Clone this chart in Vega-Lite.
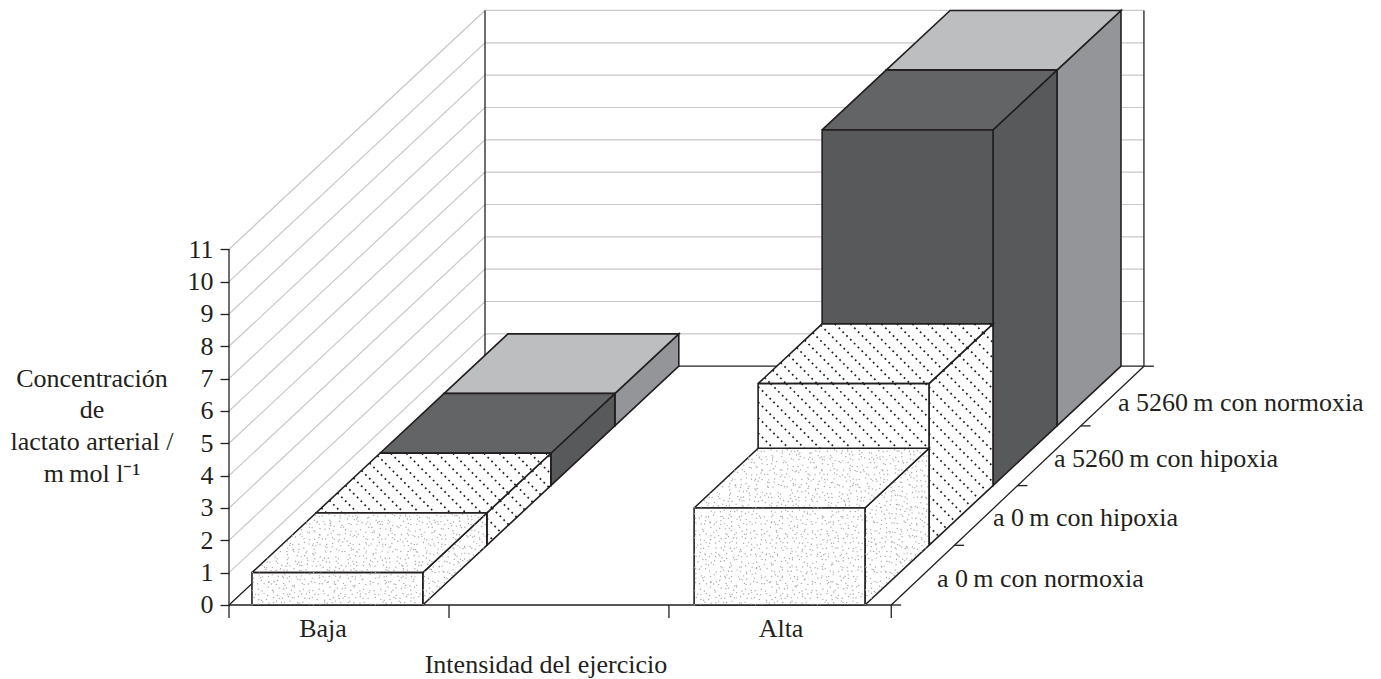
{
"$schema":"https://vega.github.io/schema/vega-lite/v6.json",
"width":1381,"height":679,"padding":0,"autosize":{"type":"none"},"background":"white",
"config":{"view":{"stroke":null}},
"data":{"values":[
{"intensidad":"Baja","condicion":"a 5260 m con normoxia","lactato":1},
{"intensidad":"Baja","condicion":"a 5260 m con hipoxia","lactato":1},
{"intensidad":"Baja","condicion":"a 0 m con hipoxia","lactato":1},
{"intensidad":"Baja","condicion":"a 0 m con normoxia","lactato":1},
{"intensidad":"Alta","condicion":"a 5260 m con normoxia","lactato":11},
{"intensidad":"Alta","condicion":"a 5260 m con hipoxia","lactato":11},
{"intensidad":"Alta","condicion":"a 0 m con hipoxia","lactato":5},
{"intensidad":"Alta","condicion":"a 0 m con normoxia","lactato":3}
]},
"transform":[
{"calculate":"datum.intensidad=='Baja'?0.104:2.107","as":"i"},
{"calculate":"0.774","as":"w"},
{"calculate":"indexof(['a 0 m con normoxia','a 0 m con hipoxia','a 5260 m con hipoxia','a 5260 m con normoxia'],datum.condicion)","as":"d"}
],
"encoding":{
"x":{"field":"u","type":"quantitative","scale":{"domain":[-1.03737,5.21857],"nice":false,"zero":false},"axis":null},
"y":{"field":"v","type":"quantitative","scale":{"domain":[-2.28819,18.70748],"nice":false,"zero":false},
"axis":{"values":[0,1,2,3,4,5,6,7,8,9,10,11],"offset":-229,"domain":false,"grid":false,"title":null,"tickSize":9,"tickWidth":1.3,"tickColor":"#231f20","labelPadding":7,"labelFont":"Liberation Serif","labelFontSize":26,"labelColor":"#231f20","labelOverlap":false,"labelBound":false,"labelFlush":false}}
},
"layer":[
{"data":{"values":[{"nivel":1},{"nivel":2},{"nivel":3},{"nivel":4},{"nivel":5},{"nivel":6},{"nivel":7},{"nivel":8},{"nivel":9},{"nivel":10},{"nivel":11}]},
"transform":[
{"calculate":"[{n:0,i:0,d:0},{n:1,i:0,d:4},{n:2,i:2.985,d:4}]","as":"p"},
{"flatten":["p"]},
{"calculate":"datum.p.n","as":"n"},
{"calculate":"datum.p.i+datum.p.d*0.28992","as":"u"},
{"calculate":"datum.nivel+datum.p.d*1.84601","as":"v"}],
"mark":{"type":"line","stroke":"#c7c8ca","strokeWidth":1.2},
"encoding":{"detail":{"field":"nivel"},"order":{"field":"n"}}},
{"data":{"values":[
{"id":"eje","n":0,"i":0,"d":0,"nivel":0},{"id":"eje","n":1,"i":0,"d":0,"nivel":11},
{"id":"frente","n":0,"i":0,"d":0,"nivel":0},{"id":"frente","n":1,"i":3,"d":0,"nivel":0},
{"id":"der","n":0,"i":3,"d":0,"nivel":0},{"id":"der","n":1,"i":2.985,"d":4,"nivel":0},
{"id":"izq","n":0,"i":0,"d":0,"nivel":0},{"id":"izq","n":1,"i":0,"d":4,"nivel":0},
{"id":"fondo","n":0,"i":0,"d":4,"nivel":0},{"id":"fondo","n":1,"i":2.985,"d":4,"nivel":0},
{"id":"paredizq","n":0,"i":0,"d":4,"nivel":0},{"id":"paredizq","n":1,"i":0,"d":4,"nivel":11},
{"id":"paredder","n":0,"i":2.985,"d":4,"nivel":0},{"id":"paredder","n":1,"i":2.985,"d":4,"nivel":11},
{"id":"tx0","n":0,"i":0,"d":0,"nivel":0},{"id":"tx0","n":1,"i":0,"d":0,"nivel":-0.4},
{"id":"tx1","n":0,"i":0.9966,"d":0,"nivel":0},{"id":"tx1","n":1,"i":0.9966,"d":0,"nivel":-0.4},
{"id":"tx2","n":0,"i":1.993,"d":0,"nivel":0},{"id":"tx2","n":1,"i":1.993,"d":0,"nivel":-0.4},
{"id":"tx3","n":0,"i":3,"d":0,"nivel":0},{"id":"tx3","n":1,"i":3,"d":0,"nivel":-0.4},
{"id":"td0","n":0,"i":3,"d":0,"nivel":0},{"id":"td0","n":1,"i":3.045,"d":0,"nivel":0},
{"id":"td1","n":0,"i":2.996,"d":1,"nivel":0},{"id":"td1","n":1,"i":3.04,"d":1,"nivel":0},
{"id":"td2","n":0,"i":2.9925,"d":2,"nivel":0},{"id":"td2","n":1,"i":3.037,"d":2,"nivel":0},
{"id":"td3","n":0,"i":2.989,"d":3,"nivel":0},{"id":"td3","n":1,"i":3.033,"d":3,"nivel":0},
{"id":"td4","n":0,"i":2.985,"d":4,"nivel":0},{"id":"td4","n":1,"i":3.03,"d":4,"nivel":0}
]},
"transform":[
{"calculate":"datum.i+datum.d*0.28992","as":"u"},
{"calculate":"datum.nivel+datum.d*1.84601","as":"v"}],
"mark":{"type":"line","stroke":"#231f20","strokeWidth":1.3},
"encoding":{"detail":{"field":"id"},"order":{"field":"n"}}},
{"transform":[
{"filter":"datum.d>=1"},
{"calculate":"[{f:'derecha',n:0,a:1,b:0,c:0},{f:'derecha',n:1,a:1,b:1,c:0},{f:'derecha',n:2,a:1,b:1,c:1},{f:'derecha',n:3,a:1,b:0,c:1},{f:'derecha',n:4,a:1,b:0,c:0},{f:'superior',n:0,a:0,b:0,c:1},{f:'superior',n:1,a:1,b:0,c:1},{f:'superior',n:2,a:1,b:1,c:1},{f:'superior',n:3,a:0,b:1,c:1},{f:'superior',n:4,a:0,b:0,c:1},{f:'frontal',n:0,a:0,b:0,c:0},{f:'frontal',n:1,a:1,b:0,c:0},{f:'frontal',n:2,a:1,b:0,c:1},{f:'frontal',n:3,a:0,b:0,c:1},{f:'frontal',n:4,a:0,b:0,c:0}]","as":"vt"},
{"flatten":["vt"]},
{"calculate":"datum.vt.n","as":"n"},
{"calculate":"datum.intensidad+datum.condicion+datum.vt.f","as":"key"},
{"calculate":"datum.d+datum.vt.f","as":"sup"},
{"calculate":"datum.i+datum.vt.a*datum.w+(datum.d+datum.vt.b)*0.28992","as":"u"},
{"calculate":"datum.vt.c*datum.lactato+(datum.d+datum.vt.b)*1.84601","as":"v"}],
"mark":{"type":"line","stroke":"#231f20","strokeWidth":1.6,"strokeJoin":"miter"},
"encoding":{"detail":{"field":"key"},"order":{"field":"n"},
"fill":{"field":"sup","type":"nominal","legend":null,"scale":{"domain":["1derecha","1superior","1frontal","2derecha","2superior","2frontal","3derecha","3superior","3frontal"],"range":["#ffffff","#ffffff","#ffffff","#58595b","#636466","#58595b","#939598","#bcbec0","#636466"]}}}},
{"transform":[
{"filter":"datum.d==1"},
{"calculate":"229+220.75*datum.i+64*datum.d","as":"xl"},
{"calculate":"datum.xl+220.75*datum.w","as":"xr"},
{"calculate":"605-59.7*datum.d","as":"yb"},
{"calculate":"32.34*datum.lactato","as":"h"},
{"calculate":"[{f:'frontal',ox:datum.xl,oy:datum.yb,ux:datum.xr-datum.xl,uy:0,vx:0,vy:-datum.h},{f:'superior',ox:datum.xl,oy:datum.yb-datum.h,ux:datum.xr-datum.xl,uy:0,vx:64,vy:-59.7},{f:'derecha',ox:datum.xr,oy:datum.yb,ux:64,uy:-59.7,vx:0,vy:-datum.h}]","as":"cara"},
{"flatten":["cara"]},
{"calculate":"sequence(-1100,700,15.5)","as":"cs"},
{"flatten":["cs"]},
{"calculate":"datum.cara.oy-datum.cara.ox","as":"o"},
{"calculate":"datum.cara.uy-datum.cara.ux","as":"pp"},
{"calculate":"datum.cara.vy-datum.cara.vx","as":"q"},
{"calculate":"(datum.cs-datum.o)/datum.pp","as":"s0"},
{"calculate":"(datum.cs-datum.o-datum.q)/datum.pp","as":"s1"},
{"calculate":"max(0,min(datum.s0,datum.s1))","as":"sa"},
{"calculate":"min(1,max(datum.s0,datum.s1))","as":"sb"},
{"filter":"datum.sb-datum.sa>0.0001"},
{"calculate":"[{n:0,s:datum.sa},{n:1,s:datum.sb}]","as":"ext"},
{"flatten":["ext"]},
{"calculate":"datum.ext.n","as":"n"},
{"calculate":"(datum.cs-datum.o-datum.ext.s*datum.pp)/datum.q","as":"tt"},
{"calculate":"(datum.cara.ox+datum.ext.s*datum.cara.ux+datum.tt*datum.cara.vx-229)/220.75","as":"u"},
{"calculate":"(605-(datum.cara.oy+datum.ext.s*datum.cara.uy+datum.tt*datum.cara.vy))/32.34","as":"v"},
{"calculate":"datum.intensidad+datum.cara.f+datum.cs","as":"key"}],
"mark":{"type":"line","stroke":"#231f20","strokeWidth":1.7,"strokeDash":[1.8,3.6]},
"encoding":{"detail":{"field":"key"},"order":{"field":"n"}}},
{"transform":[
{"filter":"datum.d==0"},
{"calculate":"[{f:'derecha',n:0,a:1,b:0,c:0},{f:'derecha',n:1,a:1,b:1,c:0},{f:'derecha',n:2,a:1,b:1,c:1},{f:'derecha',n:3,a:1,b:0,c:1},{f:'derecha',n:4,a:1,b:0,c:0},{f:'superior',n:0,a:0,b:0,c:1},{f:'superior',n:1,a:1,b:0,c:1},{f:'superior',n:2,a:1,b:1,c:1},{f:'superior',n:3,a:0,b:1,c:1},{f:'superior',n:4,a:0,b:0,c:1},{f:'frontal',n:0,a:0,b:0,c:0},{f:'frontal',n:1,a:1,b:0,c:0},{f:'frontal',n:2,a:1,b:0,c:1},{f:'frontal',n:3,a:0,b:0,c:1},{f:'frontal',n:4,a:0,b:0,c:0}]","as":"vt"},
{"flatten":["vt"]},
{"calculate":"datum.vt.n","as":"n"},
{"calculate":"datum.intensidad+datum.condicion+datum.vt.f","as":"key"},
{"calculate":"datum.i+datum.vt.a*datum.w+(datum.d+datum.vt.b)*0.28992","as":"u"},
{"calculate":"datum.vt.c*datum.lactato+(datum.d+datum.vt.b)*1.84601","as":"v"}],
"mark":{"type":"line","fill":"#ffffff","stroke":"#231f20","strokeWidth":1.6,"strokeJoin":"miter"},
"encoding":{"detail":{"field":"key"},"order":{"field":"n"}}},
{"transform":[
{"filter":"datum.d==0"},
{"calculate":"32.34*datum.lactato","as":"h"},
{"calculate":"[{f:0,a0:0,b0:0,c0:0,ua:1,ub:0,uc:0,va:0,vb:0,vc:1,nu:37,nv:datum.h/4.6},{f:1,a0:0,b0:0,c0:1,ua:1,ub:0,uc:0,va:0,vb:1,vc:0,nu:37,nv:13},{f:2,a0:1,b0:0,c0:0,ua:0,ub:1,uc:0,va:0,vb:0,vc:1,nu:14,nv:datum.h/4.6}]","as":"cara"},
{"flatten":["cara"]},
{"calculate":"sequence(0,datum.cara.nu)","as":"k"},
{"flatten":["k"]},
{"calculate":"sequence(0,datum.cara.nv)","as":"l"},
{"flatten":["l"]},
{"calculate":"(datum.k+0.05+((datum.k*datum.k*3+datum.l*datum.l*5+datum.k*datum.l*7+datum.k)%11)/12)/datum.cara.nu","as":"ss"},
{"calculate":"(datum.l+0.05+((datum.k*datum.k*2+datum.l*datum.l*7+datum.k*datum.l*5+datum.l)%13)/14)/datum.cara.nv","as":"tt"},
{"filter":"datum.tt<0.98 && datum.ss<0.985"},
{"calculate":"datum.cara.a0+datum.ss*datum.cara.ua+datum.tt*datum.cara.va","as":"aa"},
{"calculate":"datum.cara.b0+datum.ss*datum.cara.ub+datum.tt*datum.cara.vb","as":"bb"},
{"calculate":"datum.cara.c0+datum.ss*datum.cara.uc+datum.tt*datum.cara.vc","as":"cc"},
{"calculate":"datum.i+datum.aa*datum.w+datum.bb*0.28992","as":"u"},
{"calculate":"datum.cc*datum.lactato+datum.bb*1.84601","as":"v"}],
"mark":{"type":"circle","size":2,"color":"#a8a8a8","opacity":1}},
{"data":{"values":[
{"t":"Baja","u":0.4258,"v":-0.9895},
{"t":"Alta","u":2.5006,"v":-0.9895},
{"t":"Intensidad del ejercicio","u":1.436,"v":-2.1027},
{"t":"Concentración","u":-0.6206,"v":6.741},
{"t":"de","u":-0.6206,"v":5.782},
{"t":"lactato arterial /","u":-0.6206,"v":4.793},
{"t":"m\u2009mol l⁻¹","u":-0.6206,"v":3.803}
]},
"mark":{"type":"text","align":"center","baseline":"alphabetic","font":"Liberation Serif","fontSize":26,"color":"#231f20"},
"encoding":{"text":{"field":"t"}}},
{"data":{"values":[
{"t":"a 0\u2009m con normoxia","u":3.2073,"v":0.5566},
{"t":"a 0\u2009m con hipoxia","u":3.4609,"v":2.4428},
{"t":"a 5260\u2009m con hipoxia","u":3.7373,"v":4.267},
{"t":"a 5260\u2009m con normoxia","u":4.0272,"v":5.999}
]},
"mark":{"type":"text","align":"left","baseline":"alphabetic","font":"Liberation Serif","fontSize":26,"color":"#231f20"},
"encoding":{"text":{"field":"t"}}}
]
}
